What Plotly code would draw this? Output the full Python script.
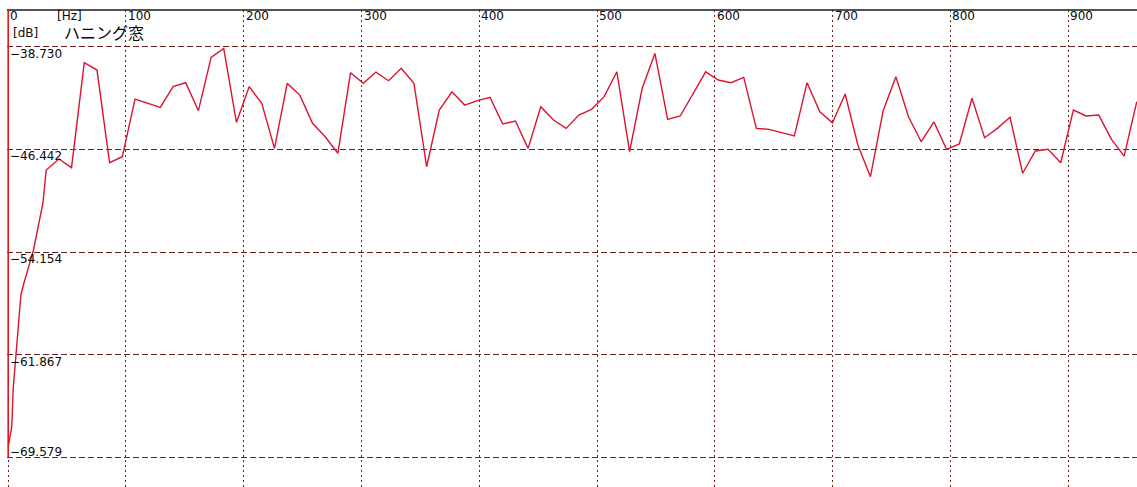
import plotly.graph_objects as go

# Spectrum (Hanning window): frequency [Hz] and level [dB]
freq_hz = [
    0.0, 3.0, 4.3, 6.6, 10.8, 13.4, 21.5, 29.5, 32.3, 43.1, 53.8, 64.6, 75.4,
    86.1, 96.9, 107.7, 118.4, 129.2, 140.0, 150.7, 161.5, 172.3, 183.0, 193.8,
    204.6, 215.3, 226.1, 236.9, 247.6, 258.4, 269.2, 279.9, 290.7, 301.5, 312.2,
    323.0, 333.7, 344.5, 355.3, 366.0, 376.8, 387.6, 398.4, 409.1, 419.9, 430.7,
    441.4, 452.2, 463.0, 473.7, 484.5, 495.3, 506.0, 516.8, 527.6, 538.3, 549.1,
    559.9, 570.6, 581.4, 592.2, 602.9, 613.7, 624.5, 635.2, 646.0, 656.8, 667.5,
    678.3, 689.1, 699.8, 710.6, 721.4, 732.1, 742.9, 753.7, 764.4, 775.2, 786.0,
    796.7, 807.5, 818.3, 829.0, 839.8, 850.6, 861.3, 872.1, 882.9, 893.6, 904.4,
    915.2, 925.9, 936.7, 947.5, 958.2,
]
level_db = [
    -68.78, -67.28, -64.35, -61.73, -57.37, -56.47, -53.99, -50.46, -47.99,
    -47.16, -47.81, -39.93, -40.48, -47.44, -46.99, -42.66, -42.96, -43.28,
    -41.73, -41.43, -43.53, -39.53, -38.85, -44.41, -41.73, -42.98, -46.36,
    -41.48, -42.36, -44.48, -45.49, -46.73, -40.68, -41.48, -40.63, -41.28,
    -40.35, -41.48, -47.74, -43.48, -42.11, -43.11, -42.78, -42.53, -44.53,
    -44.31, -46.36, -43.23, -44.23, -44.86, -43.86, -43.43, -42.48, -40.61,
    -46.61, -41.85, -39.23, -44.18, -43.93, -42.23, -40.61, -41.23, -41.43,
    -41.03, -44.86, -44.93, -45.19, -45.43, -41.43, -43.61, -44.44, -42.28,
    -46.11, -48.49, -43.53, -40.98, -43.99, -45.86, -44.38, -46.43, -46.03,
    -42.60, -45.56, -44.86, -44.03, -48.23, -46.56, -46.43, -47.44, -43.48,
    -43.93, -43.86, -45.68, -46.94, -42.86,
]

x_ticks = [0, 100, 200, 300, 400, 500, 600, 700, 800, 900]
x_tick_labels = ["0", "100", "200", "300", "400", "500", "600", "700", "800", "900"]
y_ticks = [-38.730, -46.442, -54.154, -61.867, -69.579]
y_tick_labels = ["−38.730", "−46.442", "−54.154", "−61.867", "−69.579"]

GRID = "#6e2222"
FONT = "DejaVu Sans, Noto Sans CJK JP"
TEXT = "#0a0a0a"

fig = go.Figure()
fig.add_trace(go.Scatter(
    x=freq_hz, y=level_db, mode="lines",
    line=dict(color="#dc1430", width=1.4),
    hoverinfo="skip", showlegend=False,
))

annotations = []
for xv, txt in zip(x_ticks, x_tick_labels):
    annotations.append(dict(
        x=xv, y=1, xref="x", yref="paper", text=txt, showarrow=False,
        xanchor="left", yanchor="middle", yshift=-6,
        font=dict(family=FONT, size=12, color=TEXT),
    ))
annotations.append(dict(
    x=40, y=1, xref="x", yref="paper", text="[Hz]", showarrow=False,
    xanchor="left", yanchor="middle", yshift=-6,
    font=dict(family=FONT, size=12, color=TEXT),
))
annotations.append(dict(
    x=0, y=1, xref="x", yref="paper", text="[dB]", showarrow=False,
    xanchor="left", yanchor="middle", xshift=3, yshift=-23,
    font=dict(family=FONT, size=12, color=TEXT),
))
annotations.append(dict(
    x=0, y=1, xref="x", yref="paper", text="ハニング窓", showarrow=False,
    xanchor="left", yanchor="middle", xshift=54, yshift=-23,
    font=dict(family=FONT, size=16, color=TEXT),
))
for i, (yv, txt) in enumerate(zip(y_ticks, y_tick_labels)):
    last = i == len(y_ticks) - 1
    annotations.append(dict(
        x=0, y=yv, xref="x", yref="y", text=txt, showarrow=False,
        xanchor="left", yanchor="middle",
        yshift=6 if last else -7,
        font=dict(family=FONT, size=12, color=TEXT),
    ))

shapes = [
    # frame line along the top
    dict(type="line", xref="paper", yref="paper", x0=0, x1=1, y0=1, y1=1,
         line=dict(color="#1a1a1a", width=1.5)),
    # level axis at 0 Hz
    dict(type="line", xref="x", yref="y", x0=0, x1=0, y0=y_ticks[-1], y1=-35.97,
         line=dict(color="#e3141c", width=1.6)),
]

fig.update_layout(
    width=1137, height=487,
    margin=dict(l=7, r=0, t=10, b=0),
    paper_bgcolor="white", plot_bgcolor="white",
    xaxis=dict(
        range=[-1.0, 958.4], tickvals=x_ticks, showticklabels=False, ticks="",
        showgrid=True, gridcolor=GRID, gridwidth=1.3, griddash="2px,3px",
        zeroline=False, showline=False, fixedrange=True,
    ),
    yaxis=dict(
        range=[-71.79, -35.97], tickvals=y_ticks, showticklabels=False, ticks="",
        showgrid=True, gridcolor=GRID, gridwidth=1.2, griddash="6px,3px",
        zeroline=False, showline=False, fixedrange=True,
    ),
    annotations=annotations,
    shapes=shapes,
    showlegend=False,
)

fig.write_html("out.html", config={"displayModeBar": False})
